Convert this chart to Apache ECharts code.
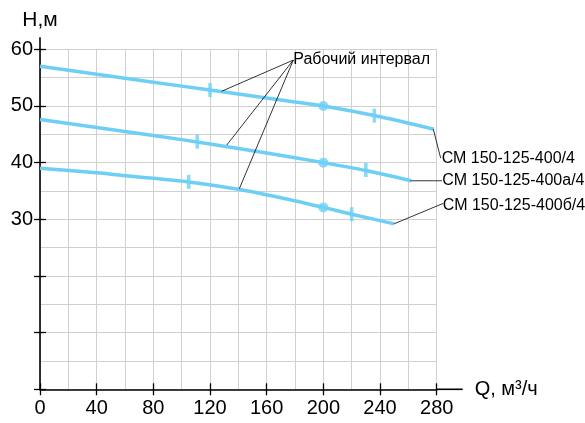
<!DOCTYPE html>
<html><head><meta charset="utf-8">
<script src="https://cdn.jsdelivr.net/npm/echarts@6/dist/echarts.min.js"></script>
<style>html,body{margin:0;padding:0;background:#fff}#c{width:585px;height:423px}</style>
</head><body><div id="c"></div>
<script>
// ---- data ----
const xTicks = [0,40,80,120,160,200,240,280];
const yTickLabels = [30,40,50,60];
const curve400  = [[0,57.0],[40,55.6],[80,54.2],[120,52.8],[160,51.4],[200,50.0],[240,48.1],[278,45.9]];
const curve400a = [[0,47.6],[40,46.2],[80,44.8],[120,43.3],[160,41.7],[200,40.0],[230,38.6],[262,36.8]];
const curve400b = [[0,39.0],[40,38.2],[64,37.6],[105,36.6],[140,35.3],[170,33.8],[200,32.1],[220,30.9],[250,29.2]];
const dutyPoints = [[200,50.0],[200,40.0],[200,32.1]];
const rangeMarks = [[120,52.8],[236,48.3],[111,43.7],[230,38.7],[105,36.6],[220,30.9]];
const seriesNames = ['СМ 150-125-400/4','СМ 150-125-400а/4','СМ 150-125-400б/4'];
const leaderFrom = [[277.6,45.9],[261.6,36.8],[249.9,29.2]];
const leaderTo   = [[282.8,40.8],[283.8,36.8],[284.5,32.8]];
const labelAt    = [[283.5,40.8],[284.0,36.8],[284.3,32.4]];
const intervalLabel = 'Рабочий интервал';
const intervalAnchor = [178.8,58.1];
const intervalTargets = [[128.3,52.6],[131.8,43.1],[140.7,35.4]];

const FONT = '"Liberation Sans", Arial, sans-serif';
const BLUE = '#6dcff6';
const chart = echarts.init(document.getElementById('c'), null, {renderer:'canvas'});

const gridLine = {show:true, lineStyle:{color:'#d0d0d0', width:1}};
const option = {
  animation:false,
  backgroundColor:'#fff',
  grid:{left:40, right:148.3, top:49.3, bottom:33.7, containLabel:false},
  xAxis:[{
    type:'value', min:0, max:280, interval:40,
    name:'Q, м³/ч', nameLocation:'end', nameGap:38,
    nameTextStyle:{fontSize:20, color:'#000', fontFamily:FONT, verticalAlign:'middle', padding:[0,0,10,0]},
    axisLine:{show:true, onZero:false, lineStyle:{color:'#000', width:1.6}},
    axisTick:{show:true, length:6, lineStyle:{color:'#000', width:1.3}},
    axisLabel:{fontSize:20, color:'#000', fontFamily:FONT, margin:9,
      formatter:v=> xTicks.indexOf(v)>=0 ? String(v) : ''},
    splitLine:gridLine,
    minorTick:{show:false, splitNumber:2},
    minorSplitLine:gridLine
  },{
    type:'value', min:0, max:280, interval:40, position:'bottom',
    axisLine:{show:false}, axisTick:{show:true, inside:true, length:6, lineStyle:{color:'#000', width:1.3}},
    axisLabel:{show:false}, splitLine:{show:false}
  }],
  yAxis:[{
    type:'value', min:0, max:60, interval:10,
    name:'Н,м', nameLocation:'end', nameGap:19,
    nameTextStyle:{fontSize:21, color:'#000', fontFamily:FONT, align:'center'},
    axisLine:{show:true, onZero:false, lineStyle:{color:'#000', width:1.6}},
    axisTick:{show:true, length:6, lineStyle:{color:'#000', width:1.3}},
    axisLabel:{fontSize:20, color:'#000', fontFamily:FONT, margin:7,
      formatter:v=> yTickLabels.indexOf(v)>=0 ? String(v) : ''},
    splitLine:gridLine,
    minorTick:{show:false, splitNumber:2},
    minorSplitLine:gridLine
  },{
    type:'value', min:0, max:60, interval:10, position:'left',
    axisLine:{show:false}, axisTick:{show:true, inside:true, length:6, lineStyle:{color:'#000', width:1.3}},
    axisLabel:{show:false}, splitLine:{show:false}
  }],
  series:[
    {type:'line', name:seriesNames[0], data:curve400, smooth:0.3, symbol:'none', clip:false,
      lineStyle:{color:BLUE, width:3.5}},
    {type:'line', name:seriesNames[1], data:curve400a, smooth:0.3, symbol:'none', clip:false,
      lineStyle:{color:BLUE, width:3.5}},
    {type:'line', name:seriesNames[2], data:curve400b, smooth:0.3, symbol:'none', clip:false,
      lineStyle:{color:BLUE, width:3.5}},
    {type:'scatter', data:rangeMarks, symbol:'rect', symbolSize:[3.5,14], itemStyle:{color:BLUE}, z:3},
    {type:'scatter', data:dutyPoints, symbol:'circle', symbolSize:10, itemStyle:{color:BLUE}, z:3}
  ]
};
chart.setOption(option);

const px = p => chart.convertToPixel({gridIndex:0}, p);
const g = [];
const line = (a,b,w) => ({type:'line', silent:true, z:10,
  shape:{x1:a[0], y1:a[1], x2:b[0], y2:b[1]}, style:{stroke:'#000', lineWidth:w}});
const axEndX = px([280,0]);
g.push(line(axEndX, [axEndX[0]+26, axEndX[1]], 1.6));
const axEndY = px([0,60]);
g.push(line(axEndY, [axEndY[0], axEndY[1]-12], 1.6));
const a = px(intervalAnchor);
intervalTargets.forEach(t => g.push(line(a, px(t), 0.8)));
g.push({type:'text', x:a[0], y:a[1], z:10, style:{text:intervalLabel, fill:'#000',
  font:'16px '+FONT, align:'left', verticalAlign:'middle'}});
seriesNames.forEach((n,i) => {
  const f = px(leaderFrom[i]), t = px(leaderTo[i]), l = px(labelAt[i]);
  g.push(line(f, t, 0.8));
  g.push({type:'text', x:l[0], y:l[1], z:10,
    style:{text:n, fill:'#000', font:'16px '+FONT, align:'left', verticalAlign:'middle'}});
});
chart.setOption({graphic:g});
</script></body></html>
